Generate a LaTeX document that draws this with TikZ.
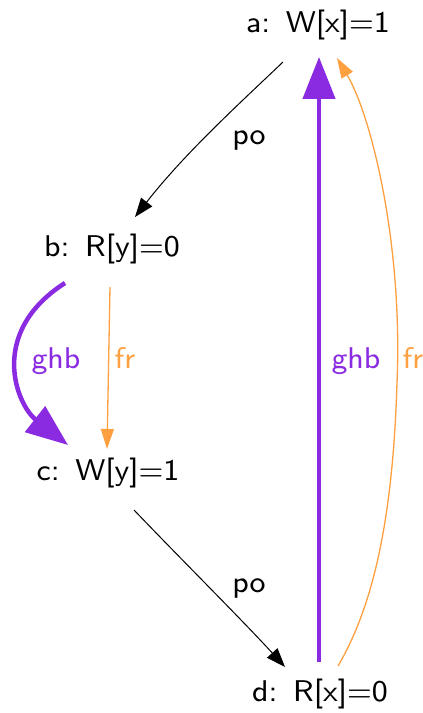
\documentclass[tikz,border=0pt]{standalone}
\usepackage{fontspec}
\newfontfamily\gvfont{lmsans8-regular.otf}
\usetikzlibrary{arrows.meta}
\definecolor{ghbc}{RGB}{138,43,226}
\definecolor{frc}{RGB}{255,160,64}
\begin{document}
\begin{tikzpicture}[x=1pt,y=1pt,
  lbl/.style={font=\gvfont\fontsize{30}{35}\selectfont, inner sep=0pt, anchor=base},
  poedge/.style={draw=black, line width=1pt, -{Triangle[length=19pt,width=14pt]}},
  ghbedge/.style={draw=ghbc, line width=4.5pt, -{Triangle[length=42pt,width=32pt]}},
  fredge/.style={draw=frc, line width=1.3pt, -{Triangle[length=20pt,width=13pt]}},
]
\useasboundingbox (0,0) rectangle (423,713);
% events
\node[lbl] (a) at (318,680) {a:\ \,W[x]=1};
\node[lbl] (b) at (112,456) {b:\ \,R[y]=0};
\node[lbl] (c) at (108,232) {c:\ \,W[y]=1};
\node[lbl] (d) at (320,11) {d:\ \,R[x]=0};
% po edges
\draw[poedge] ([shift={(-35,-29)}]a.base) .. controls (240,610) and (185,560) .. ([shift={(23,40)}]b.base);
\draw[poedge] ([shift={(26,-29)}]c.base) .. controls (175,160) and (245,90) .. ([shift={(-35,35)}]d.base);
% ghb edges
\draw[ghbedge] ([shift={(-47,-26)}]b.base) .. controls (-13,380) and (17,308) .. ([shift={(-40,36)}]c.base);
\draw[ghbedge] ([shift={(-1,40)}]d.base) -- ([shift={(1,-24)}]a.base);
% fr edges
\draw[fredge] ([shift={(-2,-30)}]b.base) -- ([shift={(-1,32)}]c.base);
\draw[fredge] ([shift={(18,36)}]d.base) .. controls (375,110) and (393,200) .. (397,330)
  .. controls (403,470) and (371,598) .. ([shift={(19,-25)}]a.base);
% labels
\node[lbl] (l1) at (249,568) {po};
\node[lbl] (l2) at (249,120) {po};
\node[lbl, text=ghbc] (l3) at (56,344) {ghb};
\node[lbl, text=frc] (l4) at (125,344) {fr};
\node[lbl, text=ghbc] (l5) at (356,344) {ghb};
\node[lbl, text=frc] (l6) at (413,344) {fr};
\end{tikzpicture}
\end{document}
